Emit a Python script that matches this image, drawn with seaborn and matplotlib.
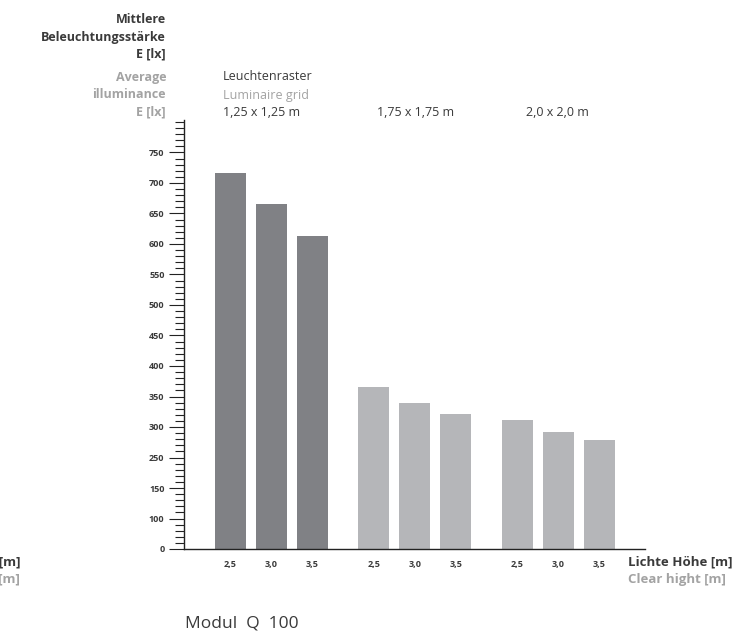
import numpy as np
import pandas as pd
import matplotlib
matplotlib.use("Agg")
import matplotlib.pyplot as plt
import seaborn as sns
from matplotlib.ticker import MultipleLocator

# data
grids = ["1,25 x 1,25 m", "1,75 x 1,75 m", "2,0 x 2,0 m"]
heights = ["2,5", "3,0", "3,5"]
lux_125 = [717, 666, 613]
lux_175 = [365, 340, 322]
lux_200 = [311, 292, 278]
# the original axis is labelled unevenly (no 50, no 200) - keep its labels
ytick_values = [100, 150, 200, 250, 300, 350, 400, 450, 500, 550, 600, 650, 700, 750]
ytick_labels = ["0", "100", "150", "250", "300", "350", "400", "450", "500",
                "550", "600", "650", "700", "750"]

W, H = 754, 637
DARK = "#808185"
LIGHT = "#b5b6b9"
TXT = "#3a3a3a"
GREY = "#a3a3a3"


def fx(x):
    return x / W


def fy(y):
    return 1 - y / H


rows = []
for g, vals in enumerate([lux_125, lux_175, lux_200]):
    for h, v in enumerate(vals):
        rows.append({"pos": g * 3.5 + h, "lux": v, "grid": grids[g], "height": heights[h]})
df = pd.DataFrame(rows)

sns.set_style("white")
plt.rcParams["font.family"] = ["Open Sans", "DejaVu Sans"]

fig = plt.figure(figsize=(W / 100, H / 100), dpi=100)
ymin, ymax = 100, 803
ax_top = 549 - (ymax - ymin) / 50 * 30.5
ax = fig.add_axes([fx(184), fy(549), fx(645) - fx(184), (549 - ax_top) / H])

palette = {grids[0]: DARK, grids[1]: LIGHT, grids[2]: LIGHT}
sns.barplot(data=df, x="pos", y="lux", hue="grid", palette=palette,
            native_scale=True, dodge=False, width=0.756, legend=False,
            saturation=1, linewidth=0, ax=ax)

ax.set_xlim(-1.13, 10.11)
ax.set_ylim(ymin, ymax)
ax.set_xlabel("")
ax.set_ylabel("")
sns.despine(ax=ax, top=True, right=True)
for s in ["left", "bottom"]:
    ax.spines[s].set_color("#222222")
    ax.spines[s].set_linewidth(1.0)

ax.set_yticks(ytick_values)
ax.set_yticklabels(ytick_labels, fontsize=6.5, fontweight="bold", color=TXT)
ax.yaxis.set_minor_locator(MultipleLocator(10))
ax.tick_params(axis="y", which="major", direction="out", length=11, width=0.8,
               color="#222222", pad=3, left=True)
ax.tick_params(axis="y", which="minor", direction="out", length=6.5, width=0.8,
               color="#222222", left=True)

ax.set_xticks(df["pos"])
ax.set_xticklabels(df["height"], fontsize=6.5, fontweight="bold", color=TXT)
ax.tick_params(axis="x", length=0, pad=8)

# left header
fig.text(fx(166), fy(37), "Mittlere\nBeleuchtungsstärke\nE [lx]", ha="right", va="center",
         fontsize=9, fontweight="bold", color=TXT, linespacing=1.45)
fig.text(fx(166), fy(95), "Average\nilluminance\nE [lx]", ha="right", va="center",
         fontsize=9, fontweight="bold", color=GREY, linespacing=1.45)

# grid headers
fig.text(fx(223), fy(77), "Leuchtenraster", ha="left", va="center", fontsize=9, color=TXT)
fig.text(fx(223), fy(95), "Luminaire grid", ha="left", va="center", fontsize=9, color=GREY)
for x, g in zip([223, 377, 526], grids):
    fig.text(fx(x), fy(112), g, ha="left", va="center", fontsize=9, color=TXT)

# x axis title (and its clipped duplicate at the left edge, as in the original)
for x, ha in [(628, "left"), (20, "right")]:
    fig.text(fx(x), fy(562), "Lichte Höhe [m]", ha=ha, va="center",
             fontsize=9.5, fontweight="bold", color=TXT)
    fig.text(fx(x), fy(580), "Clear hight [m]", ha=ha, va="center",
             fontsize=9.5, fontweight="bold", color=GREY)

fig.text(fx(185), fy(624), "Modul  Q  100", ha="left", va="center", fontsize=12.5, color=TXT)

fig.savefig("out.png", dpi=100)
